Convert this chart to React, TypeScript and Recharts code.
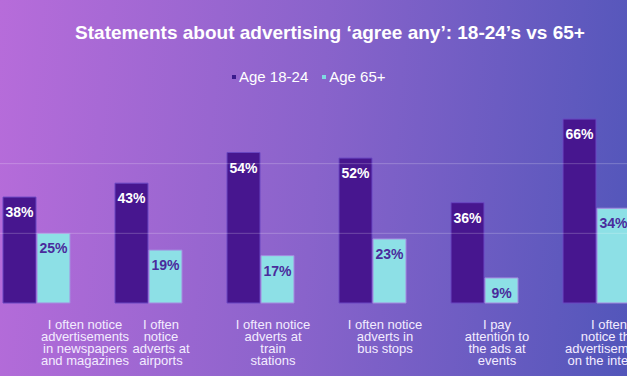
import React from "react";
import { BarChart, Bar, XAxis, YAxis, ReferenceLine, LabelList } from "recharts";

const categories = [
  "I often notice\nadvertisements\nin newspapers\nand magazines",
  "I often\nnotice\nadverts at\nairports",
  "I often notice\nadverts at\ntrain\nstations",
  "I often notice\nadverts in\nbus stops",
  "I pay\nattention to\nthe ads at\nevents",
  "I often\nnotice the\nadvertisements\non the internet",
];
const age1824 = [38, 43, 54, 52, 36, 66];
const age65 = [25, 19, 17, 23, 9, 34];
const seriesNames = ["Age 18-24", "Age 65+"];
const gridValues = [25, 50];
const title = "Statements about advertising \u2018agree any\u2019: 18-24\u2019s vs 65+";

const data = categories.map((c, i) => ({ name: c, a: age1824[i], b: age65[i] }));

const DARK = "#47168f";
const CYAN = "#8de0e6";
const FONT = '"Liberation Sans", Arial, sans-serif';
const SHIFT = 40;

const CategoryTick = (props: any) => {
  const { x, y, payload } = props;
  const lines = String(payload.value).split("\n");
  const cx = Math.max(x + 13, SHIFT + 85);
  return (
    <text x={cx} y={y} textAnchor="middle" fill="#f3ecff" fontSize={13} fontFamily={FONT}>
      {lines.map((l, i) => (
        <tspan key={i} x={cx} dy={i === 0 ? 18 : 12}>
          {l}
        </tspan>
      ))}
    </text>
  );
};

const makeLabel = (color: string) => (props: any) => {
  const { x, y, width, value } = props;
  return (
    <text
      x={x + width / 2}
      y={y + 20}
      textAnchor="middle"
      fill={color}
      fontSize={14}
      fontWeight={700}
      fontFamily={FONT}
    >
      {value}%
    </text>
  );
};

export default function App() {
  return (
    <div
      style={{
        position: "absolute",
        left: 0,
        top: 0,
        width: 627,
        height: 376,
        overflow: "hidden",
        background: "linear-gradient(95deg, #b76cda 0%, #8963cb 50%, #5256ba 100%)",
        fontFamily: FONT,
      }}
    >
      <div
        style={{
          position: "absolute",
          top: 22,
          left: 0,
          width: 660,
          textAlign: "center",
          color: "#ffffff",
          fontSize: 19,
          lineHeight: "22px",
          fontWeight: 700,
          whiteSpace: "nowrap",
        }}
      >
        {title}
      </div>
      <div
        style={{
          position: "absolute",
          top: 68,
          left: 232,
          display: "flex",
          alignItems: "center",
          color: "#ffffff",
          fontSize: 15,
          lineHeight: "18px",
          whiteSpace: "nowrap",
        }}
      >
        {seriesNames.map((n, i) => (
          <div key={n} style={{ display: "flex", alignItems: "center", marginRight: 14 }}>
            <span
              style={{
                display: "inline-block",
                width: 4,
                height: 4,
                background: i === 0 ? "#3a1a8c" : "#7fd9e2",
                marginRight: 3,
              }}
            />
            <span>{n}</span>
          </div>
        ))}
      </div>
      <div style={{ position: "absolute", left: -SHIFT, top: 0 }}>
        <BarChart
          width={712}
          height={376}
          data={data}
          margin={{ top: 94, right: 20, bottom: 0, left: 20 }}
          barSize={33}
          barGap={1}
        >
          <YAxis hide domain={[0, 75]} />
          <XAxis
            dataKey="name"
            axisLine={false}
            tickLine={false}
            height={73}
            interval={0}
            tick={<CategoryTick />}
          />
          {gridValues.map((v) => (
            <ReferenceLine key={v} y={v} stroke="rgba(255,255,255,0.22)" strokeWidth={1} />
          ))}
          <Bar dataKey="a" fill={DARK} stroke="#6a47c2" strokeWidth={1} isAnimationActive={false}>
            <LabelList dataKey="a" content={makeLabel("#ffffff")} />
          </Bar>
          <Bar dataKey="b" fill={CYAN} stroke="#a58be0" strokeWidth={1} isAnimationActive={false}>
            <LabelList dataKey="b" content={makeLabel("#4a2b9c")} />
          </Bar>
        </BarChart>
      </div>
    </div>
  );
}
